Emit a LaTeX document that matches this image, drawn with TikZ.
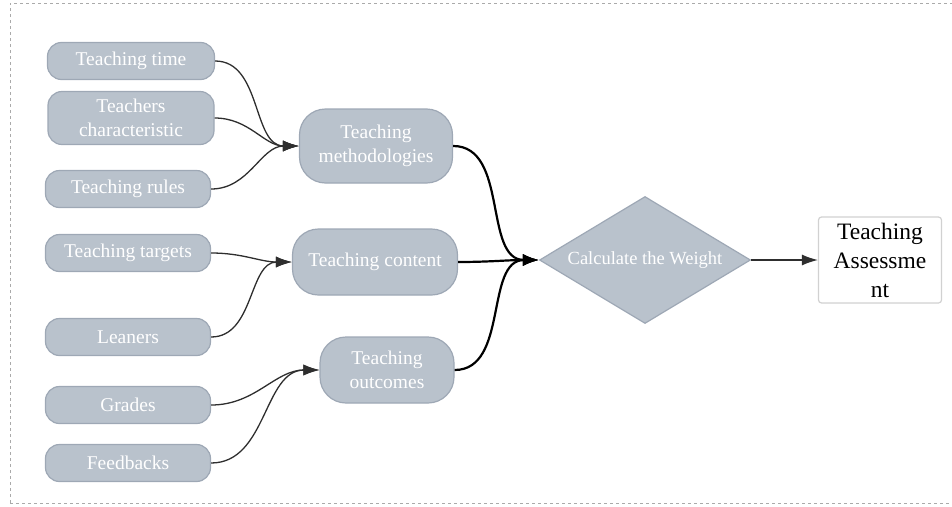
\documentclass[tikz,border=0pt]{standalone}
\usepackage{fontspec}
\setmainfont{Liberation Serif}
\usetikzlibrary{shapes.geometric,arrows.meta}
\definecolor{nodefill}{HTML}{B9C2CC}
\definecolor{nodeline}{HTML}{9EA8B5}
\definecolor{edgegray}{HTML}{2E2E2E}
\definecolor{framegray}{HTML}{AAAAAA}
\begin{document}
\begin{tikzpicture}[x=1pt,y=-1pt,
  box/.style={draw=nodeline,line width=1.2pt,fill=nodefill,rounded corners=14pt,
    text=white,font=\fontsize{19.5}{23.5}\selectfont,align=center,inner sep=0pt},
  mid/.style={box,rounded corners=26pt},
  feed/.style={draw=edgegray,line width=1.3pt,-{Latex[length=16pt,width=11pt]}},
  main/.style={draw=black,line width=2.2pt,-{Latex[length=16pt,width=12pt]}},
  every to/.style={out=0,in=180,looseness=1}]
\useasboundingbox (0,0) rectangle (952,506);
\draw[framegray,line width=1pt,dash pattern=on 3pt off 3pt] (10,503) -- (10,3) -- (960,3);
\draw[framegray,line width=1pt,dash pattern=on 3pt off 3pt] (10,503) -- (960,503);

\node[box,minimum width=167pt,minimum height=37pt] (time) at (131,61) {Teaching time};
\node[box,minimum width=166pt,minimum height=53pt] (char) at (131,118) {Teachers\\characteristic};
\node[box,minimum width=165pt,minimum height=37pt] (rules) at (128,189) {Teaching rules};
\node[box,minimum width=165pt,minimum height=37pt] (targets) at (128,253) {Teaching targets};
\node[box,minimum width=165pt,minimum height=37pt] (lean) at (128,337) {Leaners};
\node[box,minimum width=165pt,minimum height=37pt] (grades) at (128,405) {Grades};
\node[box,minimum width=165pt,minimum height=37pt] (feed) at (128,463) {Feedbacks};

\node[mid,minimum width=153pt,minimum height=74pt] (meth) at (376,146) {Teaching\\methodologies};
\node[mid,minimum width=165pt,minimum height=66pt] (cont) at (375,262) {Teaching content};
\node[mid,minimum width=134pt,minimum height=66pt] (out) at (387,370) {Teaching\\outcomes};

\node[diamond,draw=nodeline,line width=1.2pt,fill=nodefill,text=white,
  font=\fontsize{18.5}{22}\selectfont,minimum width=211pt,minimum height=127pt,
  inner sep=0pt,aspect=1.66] (calc) at (645,260) {Calculate the Weight};

\node[draw=black!18,line width=1.2pt,fill=white,rounded corners=3pt,
  minimum width=123pt,minimum height=86pt,align=center,inner sep=0pt,
  font=\fontsize{23.5}{29}\selectfont] (assess) at (880,260) {Teaching\\Assessme\\nt};

\draw[feed] (time.east) to (meth.west);
\draw[feed] (char.east) to (meth.west);
\draw[feed] (rules.east) to (meth.west);
\draw[feed] (targets.east) to (cont.west);
\draw[feed] (lean.east) to (cont.west);
\draw[feed] (grades.east) to (out.west);
\draw[feed] (feed.east) to (out.west);

\draw[main] (meth.east) to (calc.west);
\draw[main] (cont.east) to (calc.west);
\draw[main] (out.east) to (calc.west);

\draw[feed] (calc.east) -- (assess.west);
\end{tikzpicture}
\end{document}
